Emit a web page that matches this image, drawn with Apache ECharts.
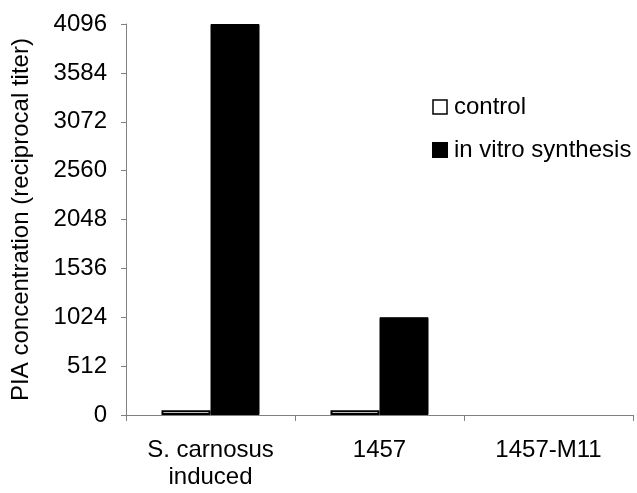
<!DOCTYPE html>
<html>
<head>
<meta charset="utf-8">
<script src="https://cdn.jsdelivr.net/npm/echarts@6/dist/echarts.min.js"></script>
<style>html,body{margin:0;padding:0;background:#fff}#c{width:637px;height:493px}</style>
</head>
<body>
<div id="c"></div>
<script>
var categories = ['S. carnosus\ninduced', '1457', '1457-M11'];
var controlValues = [50, 50, 0];
var synthesisValues = [4096, 1024, 0];
var yTicks = [0, 512, 1024, 1536, 2048, 2560, 3072, 3584, 4096];
var seriesNames = ['control', 'in vitro synthesis'];

function toData(arr) {
  return arr.map(function (v) { return v === 0 ? {value: 0, itemStyle: {borderWidth: 0, opacity: 0}} : v; });
}

var chart = echarts.init(document.getElementById('c'));
var font = 'Liberation Sans, Arial, sans-serif';
chart.setOption({
  animation: false,
  backgroundColor: '#fff',
  grid: {left: 126, right: 4, top: 24, bottom: 78, containLabel: false},
  legend: {
    orient: 'vertical', left: 427, top: 90, itemGap: 19,
    itemWidth: 14, itemHeight: 14, icon: 'rect',
    textStyle: {fontFamily: font, fontSize: 24, color: '#000', padding: [0,0,0,2]},
    data: [
      {name: seriesNames[0], itemStyle: {color: '#fff', borderColor: '#000', borderWidth: 1.5}},
      {name: seriesNames[1], itemStyle: {color: '#000'}}
    ]
  },
  xAxis: {
    type: 'category', data: categories,
    axisLine: {lineStyle: {color: '#808080', width: 1}},
    axisTick: {show: true, alignWithLabel: false, length: 6, lineStyle: {color: '#808080'}},
    axisLabel: {fontFamily: font, fontSize: 24, color: '#000', margin: 22, lineHeight: 27, interval: 0}
  },
  yAxis: {
    type: 'value', min: 0, max: 4096, interval: 512,
    name: 'PIA concentration (reciprocal titer)', nameLocation: 'middle', nameGap: 93,
    nameTextStyle: {fontFamily: font, fontSize: 24, color: '#000'},
    axisLine: {show: true, lineStyle: {color: '#808080', width: 1}},
    axisTick: {show: true, length: 5, inside: false, lineStyle: {color: '#808080'}},
    splitLine: {show: false},
    axisLabel: {fontFamily: font, fontSize: 24, color: '#000', margin: 19,
      formatter: function (v) { return yTicks.indexOf(v) >= 0 ? String(v) : ''; }}
  },
  series: [
    {name: seriesNames[0], type: 'bar', data: toData(controlValues), barGap: '0%', barCategoryGap: '42%',
     itemStyle: {color: '#fff', borderColor: '#000', borderWidth: 2}},
    {name: seriesNames[1], type: 'bar', data: toData(synthesisValues),
     itemStyle: {color: '#000', borderColor: '#000', borderWidth: 1}}
  ]
});
</script>
</body>
</html>
